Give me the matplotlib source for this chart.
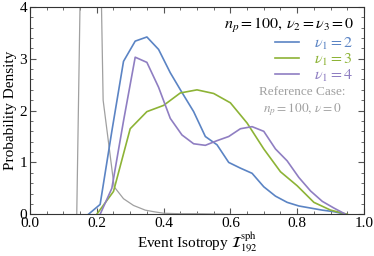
import matplotlib
matplotlib.use("Agg")
import matplotlib.pyplot as plt
from matplotlib.ticker import MultipleLocator, FormatStrFormatter

plt.rcParams['font.family'] = ['Liberation Serif', 'DejaVu Serif']
plt.rcParams['mathtext.fontset'] = 'stix'

# histogram bin centres
x_fine = [0.175, 0.21, 0.245, 0.28, 0.315, 0.35, 0.385, 0.42, 0.455, 0.49, 0.525, 0.56,
          0.595, 0.63, 0.665, 0.70, 0.735, 0.77, 0.805, 0.84, 0.875, 0.91, 0.945]
x_coarse = [0.20, 0.25, 0.30, 0.35, 0.40, 0.45, 0.50, 0.55, 0.60, 0.65, 0.70, 0.75,
            0.80, 0.85, 0.90, 0.95]

# nu1 = 2 (blue)
y_nu2 = [0.0, 0.19, 1.6, 2.95, 3.34, 3.42, 3.18, 2.73, 2.35, 1.98, 1.5, 1.34,
         1.0, 0.89, 0.79, 0.53, 0.35, 0.23, 0.16, 0.12, 0.08, 0.05, 0.0]
# nu1 = 3 (green)
y_nu3 = [0.0, 0.44, 1.65, 1.98, 2.1, 2.34, 2.40, 2.33, 2.15, 1.76, 1.26, 0.82,
         0.55, 0.23, 0.08, 0.0]
# nu1 = 4 (purple)
x_nu4 = x_fine[1:]
y_nu4 = [0.0, 0.5, 1.8, 3.03, 2.93, 2.45, 1.85, 1.53, 1.36, 1.33, 1.42,
         1.5, 1.65, 1.69, 1.6, 1.26, 1.03, 0.71, 0.45, 0.25, 0.12, 0.0]
# reference case (grey)
x_ref = [0.14, 0.18, 0.219, 0.252, 0.28, 0.31, 0.345, 0.37, 0.40, 0.45, 0.50, 0.55, 0.60]
y_ref = [0.0, 16.5, 2.2, 0.53, 0.30, 0.17, 0.08, 0.05, 0.02, 0.01, 0.01, 0.005, 0.0]

c_blue = '#5b84c4'
c_green = '#8db336'
c_purple = '#8f7ec2'
c_grey = '#a0a0a0'

fig = plt.figure(figsize=(3.74, 2.56), dpi=100)
ax = fig.add_axes([0.0802, 0.163, 0.893, 0.81])

ax.plot(x_ref, y_ref, color=c_grey, lw=0.9)
l1, = ax.plot(x_fine, y_nu2, color=c_blue, lw=1.2)
l2, = ax.plot(x_coarse, y_nu3, color=c_green, lw=1.2)
l3, = ax.plot(x_nu4, y_nu4, color=c_purple, lw=1.2)

ax.set_xlim(0, 1)
ax.set_ylim(0, 4)
ax.xaxis.set_major_locator(MultipleLocator(0.2))
ax.xaxis.set_minor_locator(MultipleLocator(0.05))
ax.yaxis.set_major_locator(MultipleLocator(1))
ax.yaxis.set_minor_locator(MultipleLocator(0.2))
ax.xaxis.set_major_formatter(FormatStrFormatter('%.1f'))
ax.tick_params(which='both', direction='in', top=True, right=True, color='#555555',
               labelsize=11, pad=2)
ax.tick_params(which='major', length=4)
ax.tick_params(which='minor', length=2)
for s in ax.spines.values():
    s.set_color('#333333')

ax.set_xlabel(r'Event Isotropy $\mathcal{I}_{192}^{\mathrm{sph}}$', fontsize=11, labelpad=0)
ax.set_ylabel('Probability Density', fontsize=11, labelpad=2)

ax.text(0.973, 0.91, r'$n_p = 100,\, \nu_2 = \nu_3 = 0$', transform=ax.transAxes,
        ha='right', va='center', fontsize=11.5, color='black')
leg = ax.legend([l1, l2, l3], [r'$\nu_1 = 2$', r'$\nu_1 = 3$', r'$\nu_1 = 4$'],
                loc='upper right', bbox_to_anchor=(0.966, 0.862), frameon=False,
                fontsize=11.5, handlelength=1.5, handletextpad=0.9,
                labelspacing=0.0, borderpad=0, borderaxespad=0, markerfirst=True)
for t, c in zip(leg.get_texts(), [c_blue, c_green, c_purple]):
    t.set_color(c)
ax.text(0.815, 0.59, 'Reference Case:', transform=ax.transAxes,
        ha='center', va='center', fontsize=9.5, color=c_grey)
ax.text(0.815, 0.505, r'$n_p = 100,\, \nu = 0$', transform=ax.transAxes,
        ha='center', va='center', fontsize=9.5, color=c_grey)

fig.savefig('out.png', dpi=100)
